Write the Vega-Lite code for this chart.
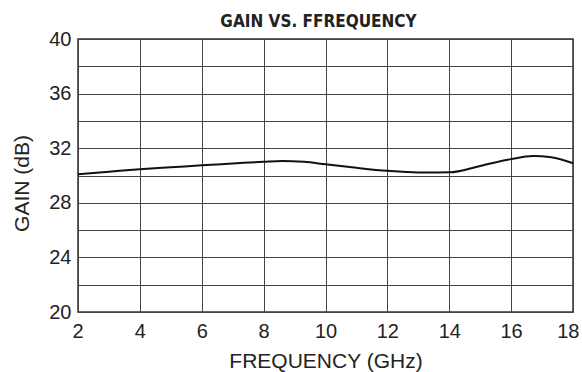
{
  "$schema": "https://vega.github.io/schema/vega-lite/v6.json",
  "autosize": {"type": "none"},
  "width": 495,
  "height": 273,
  "padding": {"left": 78, "top": 39, "right": 9, "bottom": 60},
  "background": "white",
  "title": {
    "text": "GAIN VS. FFREQUENCY",
    "font": "DejaVu Sans Condensed",
    "fontSize": 17,
    "fontWeight": "bold",
    "color": "#222222",
    "anchor": "middle",
    "dx": -7,
    "offset": -2
  },
  "config": {
    "view": {"stroke": "#333333", "strokeWidth": 1.5},
    "axis": {
      "labelFont": "Liberation Sans",
      "titleFont": "Liberation Sans",
      "labelFontSize": 20,
      "titleFontSize": 21,
      "labelColor": "#222222",
      "titleColor": "#222222",
      "titleFontWeight": "normal",
      "gridColor": "#444444",
      "gridOpacity": 1,
      "gridWidth": 1,
      "domain": false,
      "ticks": false
    }
  },
  "data": {
    "values": [
      {"f": 2, "gain": 30.1},
      {"f": 3, "gain": 30.28},
      {"f": 4, "gain": 30.46},
      {"f": 5, "gain": 30.6},
      {"f": 6, "gain": 30.75},
      {"f": 7, "gain": 30.88},
      {"f": 8, "gain": 31.01},
      {"f": 8.6, "gain": 31.07},
      {"f": 9.3, "gain": 31.0},
      {"f": 10, "gain": 30.82},
      {"f": 11, "gain": 30.56},
      {"f": 12, "gain": 30.34},
      {"f": 13, "gain": 30.22},
      {"f": 14, "gain": 30.23},
      {"f": 15, "gain": 30.7},
      {"f": 16, "gain": 31.2},
      {"f": 16.7, "gain": 31.42},
      {"f": 17.3, "gain": 31.33},
      {"f": 18, "gain": 30.9}
    ]
  },
  "mark": {"type": "line", "color": "#111111", "strokeWidth": 2, "interpolate": "monotone"},
  "encoding": {
    "x": {
      "field": "f",
      "type": "quantitative",
      "scale": {"domain": [2, 18], "nice": false},
      "axis": {
        "values": [2, 4, 6, 8, 10, 12, 14, 16, 18],
        "title": "FREQUENCY (GHz)",
        "labelPadding": 9,
        "titlePadding": 9,
        "labelFlush": true,
        "labelFlushOffset": 6
      }
    },
    "y": {
      "field": "gain",
      "type": "quantitative",
      "scale": {"domain": [20, 40], "nice": false, "zero": false},
      "axis": {
        "values": [20, 22, 24, 26, 28, 30, 32, 34, 36, 38, 40],
        "labelExpr": "datum.value % 4 == 0 ? datum.label : ''",
        "title": "GAIN (dB)",
        "labelPadding": 7,
        "titlePadding": 16,
        "titleY": 144,
        "labelFlush": false
      }
    }
  }
}
